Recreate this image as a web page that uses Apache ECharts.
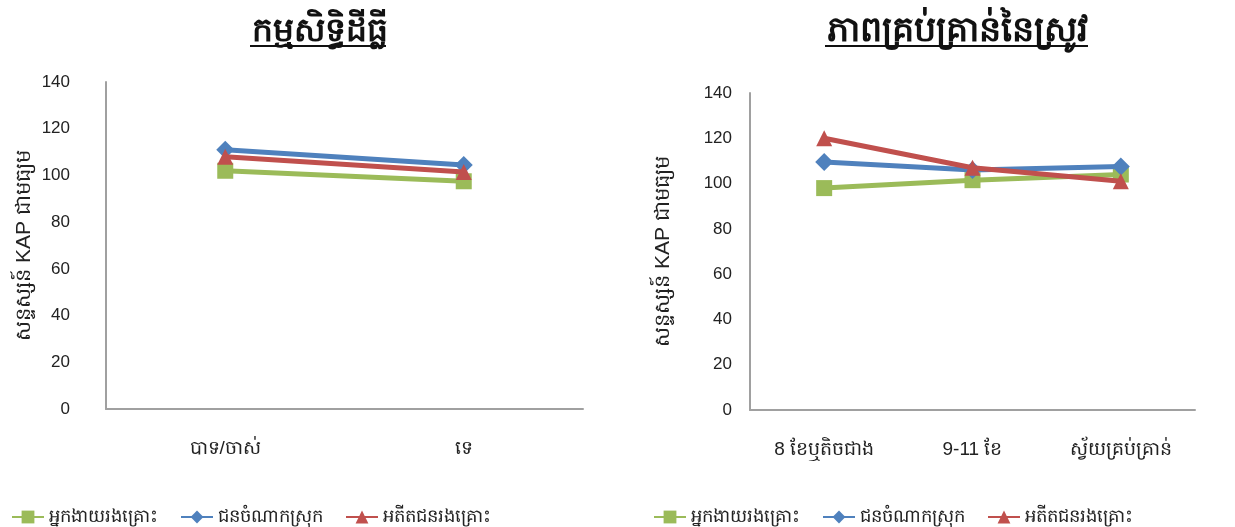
<!DOCTYPE html>
<html>
<head>
<meta charset="utf-8">
<script src="https://cdn.jsdelivr.net/npm/echarts@6/dist/echarts.min.js"></script>
<style>
  html, body { margin: 0; padding: 0; background: #fff; }
  #chart { width: 1235px; height: 527px; }
</style>
</head>
<body>
<div id="chart"></div>
<script>
const seriesNames = ['អ្នកងាយរងគ្រោះ', 'ជនចំណាកស្រុក', 'អតីតជនរងគ្រោះ'];
const leftTitle = 'កម្មសិទ្ធិដីធ្លី';
const rightTitle = 'ភាពគ្រប់គ្រាន់នៃស្រូវ';
const yName = 'សន្ទស្សន៍ KAP ជាមធ្យម';

const leftCats = ['បាទ/ចាស់', 'ទេ'];
const leftGreen = [102, 97.5];
const leftBlue = [111, 104.5];
const leftRed = [108, 101.5];

const rightCats = ['8 ខែឬតិចជាង', '9-11 ខែ', 'ស្វ័យគ្រប់គ្រាន់'];
const rightGreen = [98, 101.5, 104];
const rightBlue = [109.5, 106, 107.5];
const rightRed = [120, 107, 101];

const colors = ['#9BBB59', '#4F81BD', '#C0504D'];
const symbols = ['rect', 'diamond', 'triangle'];
const font = '"Liberation Sans", Arial, sans-serif';

const makeSeries = (idx, data, gi) => ({
  name: seriesNames[idx],
  type: 'line',
  xAxisIndex: gi,
  yAxisIndex: gi,
  data,
  symbol: symbols[idx],
  symbolSize: idx === 1 ? 18 : 16,
  lineStyle: { width: 5, color: colors[idx] },
  itemStyle: { color: colors[idx] },
  z: idx === 2 ? 4 : (idx === 1 ? 3 : 2),
});

const axisLine = { show: true, lineStyle: { color: '#A0A0A0', width: 2 } };

const yAxisBase = (gi, labelMargin, nameGap) => ({
  type: 'value',
  gridIndex: gi,
  min: 0,
  max: 140,
  interval: 20,
  name: yName,
  nameLocation: 'middle',
  nameGap,
  nameTextStyle: { fontSize: 21, color: '#222', fontFamily: font },
  axisLine,
  axisTick: { show: false },
  splitLine: { show: false },
  axisLabel: { fontSize: 17, color: '#222', fontFamily: font, margin: labelMargin },
});

const xAxisBase = (gi, cats) => ({
  type: 'category',
  gridIndex: gi,
  data: cats,
  boundaryGap: true,
  axisLine,
  axisTick: { show: false },
  axisLabel: { fontSize: 19, color: '#222', fontFamily: font, margin: 30 },
});

const legendBase = (left) => ({
  data: seriesNames, left, top: 503, itemWidth: 32, itemHeight: 16, itemGap: 22,
  textStyle: { fontSize: 18, color: '#222', fontFamily: font },
});

const option = {
  animation: false,
  backgroundColor: '#fff',
  title: [
    { text: leftTitle, left: 315, top: 10, textAlign: 'center',
      textStyle: { fontSize: 33, fontWeight: 'bold', color: '#111', fontFamily: font } },
    { text: rightTitle, left: 952, top: 9, textAlign: 'center',
      textStyle: { fontSize: 35, fontWeight: 'bold', color: '#111', fontFamily: font } },
  ],
  graphic: [
    { type: 'line', shape: { x1: 250, y1: 46, x2: 386, y2: 46 }, style: { stroke: '#111', lineWidth: 2 } },
    { type: 'line', shape: { x1: 825, y1: 46, x2: 1088, y2: 46 }, style: { stroke: '#111', lineWidth: 2 } },
  ],
  legend: [legendBase(6), legendBase(648)],
  grid: [
    { left: 106, top: 82, width: 477, height: 327 },
    { left: 750, top: 93, width: 445, height: 317 },
  ],
  xAxis: [xAxisBase(0, leftCats), xAxisBase(1, rightCats)],
  yAxis: [yAxisBase(0, 36, 71), yAxisBase(1, 18, 76)],
  series: [
    makeSeries(0, leftGreen, 0),
    makeSeries(1, leftBlue, 0),
    makeSeries(2, leftRed, 0),
    makeSeries(0, rightGreen, 1),
    makeSeries(1, rightBlue, 1),
    makeSeries(2, rightRed, 1),
  ],
};

const chart = echarts.init(document.getElementById('chart'));
chart.setOption(option);
</script>
</body>
</html>
